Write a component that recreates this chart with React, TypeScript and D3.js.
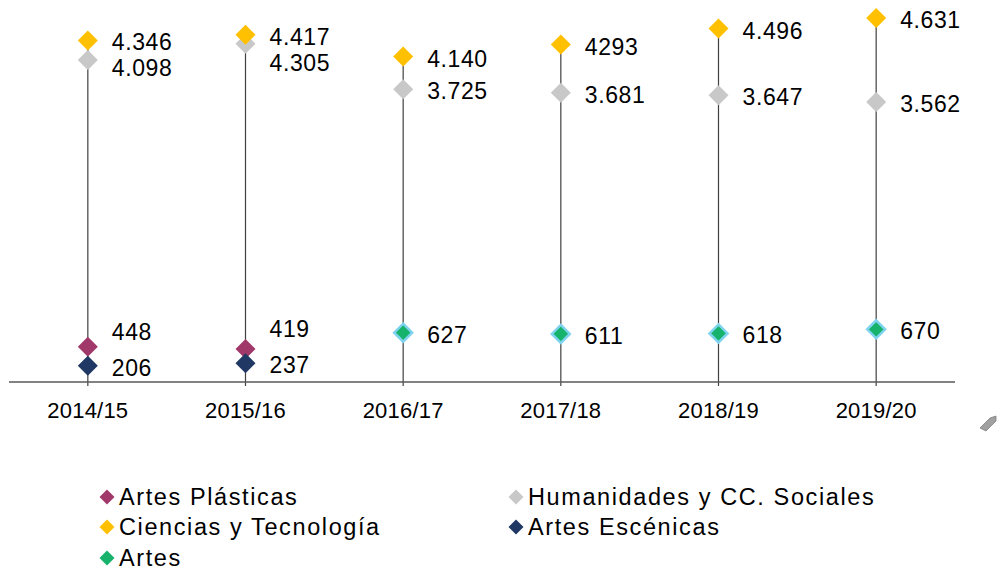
import React from "react";
import * as d3 from "d3";

const categories = ["2014/15", "2015/16", "2016/17", "2017/18", "2018/19", "2019/20"];
const ciencias = [4346, 4417, 4140, 4293, 4496, 4631];
const cienciasLabels = ["4.346", "4.417", "4.140", "4293", "4.496", "4.631"];
const humanidades = [4098, 4305, 3725, 3681, 3647, 3562];
const plasticas: (number | null)[] = [448, 419, null, null, null, null];
const escenicas: (number | null)[] = [206, 237, null, null, null, null];
const artes: (number | null)[] = [null, null, 627, 611, 618, 670];

const fmt = (v: number) => (v >= 1000 ? d3.format(",")(v).replace(",", ".") : String(v));

const COLORS = {
  plasticas: "#A0396A",
  humanidades: "#C8C8C8",
  ciencias: "#FFC000",
  escenicas: "#1F3864",
  artes: "#17B26B",
};

const W = 1000;
const H = 572;
const baseY = 382;

export default function App() {
  const x = d3.scaleBand<string>().domain(categories).range([9, 955]);
  const y = d3.scaleLinear().domain([0, 5000]).range([baseY, baseY - 393]);
  const cx = (c: string) => (x(c) as number) + x.bandwidth() / 2;
  const diamond = (s: number) => `M0,${-s}L${s},0L0,${s}L${-s},0Z`;
  const font = "'Liberation Sans', Arial, sans-serif";

  const legend = [
    { name: "Artes Plásticas", color: COLORS.plasticas, x: 107, y: 497 },
    { name: "Humanidades y CC. Sociales", color: COLORS.humanidades, x: 516, y: 497 },
    { name: "Ciencias y Tecnología", color: COLORS.ciencias, x: 107, y: 527 },
    { name: "Artes Escénicas", color: COLORS.escenicas, x: 516, y: 527 },
    { name: "Artes", color: COLORS.artes, x: 107, y: 558 },
  ];

  return (
    <svg width={W} height={H} style={{ position: "absolute", left: 0, top: 0, background: "#fff" }} fontFamily={font}>
      {categories.map((c, i) => {
        const top = Math.max(ciencias[i], humanidades[i]);
        return (
          <line key={"v" + c} x1={cx(c)} x2={cx(c)} y1={baseY + 4} y2={y(top)} stroke="#404040" strokeWidth={1.2} />
        );
      })}
      <line x1={9} x2={955} y1={baseY} y2={baseY} stroke="#595959" strokeWidth={1.3} />
      {categories.map((c) => (
        <text key={"t" + c} x={cx(c)} y={418} textAnchor="middle" fontSize={22} letterSpacing={0.2} fill="#000">
          {c}
        </text>
      ))}
      {categories.map((c, i) => (
        <g key={"m" + c} transform={`translate(${cx(c)},0)`}>
          <path d={diamond(10)} transform={`translate(0,${y(humanidades[i])})`} fill={COLORS.humanidades} />
          <path d={diamond(10)} transform={`translate(0,${y(ciencias[i])})`} fill={COLORS.ciencias} />
          {plasticas[i] != null && (
            <path d={diamond(10)} transform={`translate(0,${y(plasticas[i] as number)})`} fill={COLORS.plasticas} />
          )}
          {escenicas[i] != null && (
            <path d={diamond(10)} transform={`translate(0,${y(escenicas[i] as number)})`} fill={COLORS.escenicas} />
          )}
          {artes[i] != null && (
            <path
              d={diamond(9)}
              transform={`translate(0,${y(artes[i] as number)})`}
              fill={COLORS.artes}
              stroke="#7FD3EE"
              strokeWidth={2.5}
            />
          )}
        </g>
      ))}
      {categories.map((c, i) => {
        const lx = cx(c) + 24;
        const cy = y(ciencias[i]) + 2;
        const hy = Math.max(y(humanidades[i]) + 2, cy + 26);
        const labels: { t: string; y: number }[] = [
          { t: cienciasLabels[i], y: cy },
          { t: fmt(humanidades[i]), y: hy },
        ];
        if (escenicas[i] != null) {
          const ey = y(escenicas[i] as number) + 2;
          labels.push({ t: fmt(escenicas[i] as number), y: ey });
          if (plasticas[i] != null) {
            labels.push({ t: fmt(plasticas[i] as number), y: Math.min(y(plasticas[i] as number) + 2, ey - 36) });
          }
        }
        if (artes[i] != null) labels.push({ t: fmt(artes[i] as number), y: y(artes[i] as number) + 2 });
        return labels.map((l, j) => (
          <text key={"l" + c + j} x={lx} y={l.y} dy="0.35em" fontSize={23} letterSpacing={0.6} fill="#000">
            {l.t}
          </text>
        ));
      })}
      <path d="M980,428 L990,418 L996,416 L996,421 L986,431 Z" fill="#A0A0A0" stroke="#808080" strokeWidth={0.8} />
      {legend.map((l) => (
        <g key={l.name}>
          <path d={diamond(7.5)} transform={`translate(${l.x},${l.y})`} fill={l.color} />
          <text x={l.x + 12} y={l.y} dy="0.35em" fontSize={23.5} letterSpacing={1.6} fill="#000">
            {l.name}
          </text>
        </g>
      ))}
    </svg>
  );
}
